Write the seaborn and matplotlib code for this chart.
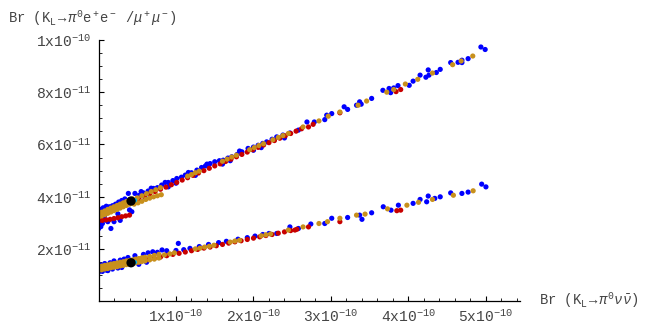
import matplotlib
matplotlib.use("Agg")
import matplotlib.pyplot as plt
import seaborn as sns
import pandas as pd
from matplotlib.ticker import FixedLocator

sns.set_theme(style="white")
plt.rcParams['font.family'] = ['Liberation Mono', 'DejaVu Sans']
plt.rcParams['mathtext.fontset'] = 'custom'
plt.rcParams['mathtext.rm'] = 'Liberation Mono'
plt.rcParams['mathtext.it'] = 'Liberation Mono:italic'
plt.rcParams['mathtext.bf'] = 'Liberation Mono:bold'

# x in units of 1e-10, y in units of 1e-11
blue_ee = [(0.00,2.78),(0.01,2.92),(0.02,3.05),(0.03,2.86),(0.04,3.42),(0.05,2.98),(0.07,3.50),
           (0.09,3.12),(0.11,3.56),(0.16,2.79),(0.14,3.62),(0.18,3.66),(0.22,3.72),(0.26,3.80),
           (0.30,3.86),(0.34,3.92),(0.385,4.13),(0.43,3.43),(0.40,3.50),(0.05,3.20),(0.08,3.30),
           (0.12,3.05),(0.20,3.05),(0.25,3.35),(0.28,3.10),(0.02,3.52),(0.06,3.58),(0.10,3.64),
           (0.47,4.13),(0.52,4.05),(0.58,4.15),(0.64,4.22),(0.71,4.32),(0.76,4.35),(0.815,4.45),
           (0.90,4.55),(0.96,4.62),(1.01,4.70),(1.07,4.75),(1.12,4.83),(1.20,4.92),(1.27,5.02),
           (1.33,5.12),(1.38,5.18),(1.44,5.27),(1.50,5.34),(1.56,5.38),(1.61,5.40),(1.67,5.48),
           (1.72,5.53),(1.79,5.62),(1.85,5.72),(1.93,5.85),(2.00,5.90),(2.06,5.97),(2.12,6.04),
           (2.17,6.10),(2.24,6.20),(2.30,6.29),(2.38,6.36),(2.47,6.44),(2.58,6.55),(2.69,6.86),
           (2.785,6.86),(2.92,6.95),(2.945,7.12),(3.01,7.18),(3.17,7.44),(3.215,7.34),(3.33,7.50),
           (3.37,7.63),(3.39,7.54),(3.525,7.76),(3.67,8.07),(3.75,8.14),(3.77,7.98),(3.81,8.16),
           (3.865,8.25),(4.01,8.26),(4.06,8.42),(4.15,8.65),(4.225,8.57),(4.255,8.85),(4.265,8.65),
           (4.36,8.75),(4.41,8.87),(4.545,9.13),(4.64,9.14),(4.69,9.22),(4.69,9.13),(4.77,9.28),
           (4.935,9.725),(4.99,9.63),(1.00,4.52),(1.60,5.25),(2.00,5.78),(0.60,3.98),(0.90,4.38),
           (1.25,4.82),(1.70,5.38),(2.10,5.88),(2.40,6.25),(0.55,4.20),(0.68,4.33),(0.86,4.55),
           (1.16,4.93),(1.40,5.25),(1.82,5.75)]

red_ee = [(0.00,3.08),(0.05,3.10),(0.10,3.12),(0.15,3.14),(0.20,3.17),(0.25,3.20),(0.30,3.24),
          (0.35,3.27),(0.40,3.30),
          (0.45,3.84),(0.52,3.93),(0.59,4.02),(0.66,4.11),(0.73,4.20),(0.80,4.29),(0.87,4.37),
          (0.94,4.46),(1.01,4.55),(1.08,4.64),(1.15,4.73),(1.22,4.82),(1.29,4.91),(1.36,5.00),
          (1.43,5.09),(1.50,5.18),(1.57,5.26),(1.64,5.35),(1.71,5.44),(1.78,5.53),(1.85,5.62),
          (1.92,5.71),(1.99,5.80),(2.06,5.89),(2.13,5.98),(2.20,6.07),(2.27,6.15),(2.34,6.24),
          (2.41,6.33),(2.48,6.42),(2.55,6.51),(2.62,6.60),
          (2.71,6.67),(2.77,6.77),(3.115,7.21),(3.84,8.02),(3.90,8.10)]

gold_ee = [(0.00,3.22),(0.00,3.36),(0.04,3.27),(0.04,3.41),(0.08,3.32),(0.08,3.46),(0.12,3.37),
           (0.12,3.52),(0.16,3.42),(0.16,3.57),(0.20,3.47),(0.20,3.62),(0.24,3.52),(0.24,3.67),
           (0.28,3.57),(0.28,3.72),(0.32,3.62),(0.32,3.77),(0.36,3.67),(0.36,3.82),(0.40,3.72),
           (0.40,3.87),(0.44,3.77),(0.44,3.92),(0.02,3.30),(0.06,3.35),(0.10,3.40),(0.14,3.46),
           (0.18,3.51),(0.22,3.56),(0.26,3.62),(0.30,3.67),(0.34,3.72),(0.38,3.78),(0.42,3.83),
           (0.46,3.72),(0.51,3.77),(0.56,3.83),(0.61,3.90),(0.66,3.95),(0.71,4.00),(0.76,4.04),
           (0.81,4.08),
           (0.50,3.96),(0.56,4.04),(0.62,4.12),(0.68,4.20),(0.74,4.27),(0.80,4.35),(1.15,4.79),
           (1.20,4.85),(1.25,4.92),(1.30,4.98),(1.60,5.36),(1.66,5.44),(1.72,5.52),(1.78,5.59),
           (1.95,5.80),(2.01,5.88),(2.07,5.96),(2.13,6.03),(2.25,6.18),(2.32,6.27),(2.38,6.34),
           (2.45,6.42),(2.64,6.67),(2.845,6.90),(2.965,7.08),(3.115,7.24),(3.35,7.50),(3.46,7.66),
           (3.72,8.00),(3.81,8.10),(3.96,8.31),(4.12,8.49),(4.31,8.73),(4.57,9.05),(4.68,9.19),
           (4.83,9.38)]

blue_mm = [(0.00,1.12),(0.02,1.40),(0.05,1.15),(0.08,1.45),(0.12,1.18),(0.15,1.48),(0.20,1.55),
           (0.25,1.28),(0.28,1.58),(0.33,1.62),(0.38,1.68),(0.47,1.75),(0.52,1.42),(0.58,1.80),
           (0.64,1.86),(0.70,1.90),(0.76,1.88),(0.82,1.97),(0.88,1.94),(1.03,2.22),(1.00,1.95),
           (1.10,1.98),(1.18,2.03),(1.30,2.10),(1.42,2.18),(1.55,2.25),(1.65,2.30),(1.80,2.38),
           (1.92,2.44),(2.02,2.50),(2.12,2.56),(2.20,2.60),(2.30,2.60),(2.47,2.85),(2.58,2.79),
           (2.74,2.96),(2.92,2.98),(3.01,3.18),(3.215,3.21),(3.37,3.30),(3.40,3.14),(3.525,3.39),
           (3.675,3.62),(3.775,3.49),(3.87,3.68),(4.06,3.75),(4.15,3.90),(4.235,3.81),(4.255,4.03),
           (4.34,3.94),(4.41,4.00),(4.545,4.15),(4.69,4.13),(4.77,4.18),(4.945,4.485),(5.00,4.38),
           (0.10,1.20),(0.18,1.24),(0.30,1.30),(0.62,1.50)]

red_mm = [(0.00,1.22),(0.08,1.27),(0.16,1.32),(0.24,1.36),(0.32,1.41),(0.40,1.46),(0.48,1.51),
          (0.56,1.56),(0.64,1.60),(0.72,1.65),(0.80,1.70),(0.88,1.75),(0.96,1.80),(1.04,1.84),
          (1.12,1.89),(1.20,1.94),(1.28,1.99),(1.36,2.04),(1.44,2.08),(1.52,2.13),(1.60,2.18),
          (1.68,2.23),(1.76,2.28),(1.84,2.32),(1.92,2.37),(2.00,2.42),(2.08,2.47),(2.16,2.52),
          (2.24,2.56),(2.32,2.61),(2.40,2.66),(2.48,2.71),(2.56,2.76),
          (2.535,2.73),(2.71,2.85),(3.115,3.05),(3.85,3.47),(3.90,3.49)]

gold_mm = [(0.00,1.19),(0.00,1.33),(0.04,1.21),(0.04,1.35),(0.08,1.24),(0.08,1.38),(0.12,1.26),
           (0.12,1.40),(0.16,1.29),(0.16,1.43),(0.20,1.31),(0.20,1.45),(0.24,1.33),(0.24,1.47),
           (0.28,1.36),(0.28,1.50),(0.32,1.38),(0.32,1.52),(0.36,1.41),(0.36,1.55),(0.40,1.43),
           (0.40,1.57),(0.44,1.45),(0.44,1.59),(0.48,1.48),(0.48,1.62),(0.52,1.50),(0.52,1.64),
           (0.56,1.53),(0.56,1.67),(0.60,1.55),(0.60,1.69),(0.66,1.59),(0.66,1.72),(0.72,1.62),
           (0.72,1.76),(0.78,1.66),(0.78,1.80),
           (0.85,1.78),(0.92,1.82),(0.98,1.86),(1.25,2.01),(1.31,2.04),(1.37,2.08),(1.43,2.11),
           (1.49,2.15),(1.70,2.27),(1.76,2.31),(1.82,2.34),(2.10,2.51),(2.16,2.55),(2.22,2.58),
           (2.45,2.73),(2.64,2.85),(2.845,2.98),(2.955,3.05),(3.115,3.18),(3.33,3.30),(3.44,3.34),
           (3.73,3.54),(3.98,3.68),(4.13,3.79),(4.31,3.90),(4.58,4.06),(4.835,4.23)]

cyan_pts = [(0.47,3.87),(0.47,1.50)]
black_pts = [(0.42,3.84),(0.42,1.48)]

x_ticks = [1, 2, 3, 4, 5]
x_tick_labels = [r'1x10$^{-10}$', r'2x10$^{-10}$', r'3x10$^{-10}$', r'4x10$^{-10}$', r'5x10$^{-10}$']
y_ticks = [2, 4, 6, 8, 10]
y_tick_labels = [r'2x10$^{-11}$', r'4x10$^{-11}$', r'6x10$^{-11}$', r'8x10$^{-11}$', r'1x10$^{-10}$']

colors = {'blue': '#0000FF', 'red': '#C80000', 'gold': '#C8901C', 'cyan': '#00B0F0', 'black': '#000000'}

rows = []
for name, pts in [('blue', blue_ee), ('blue', blue_mm), ('red', red_ee), ('red', red_mm),
                  ('gold', gold_ee), ('gold', gold_mm)]:
    for x, y in pts:
        rows.append((x * 1e-10, y * 1e-11, name))
df = pd.DataFrame(rows, columns=['x', 'y', 'grp'])
dfc = pd.DataFrame([(x * 1e-10, y * 1e-11, 'cyan') for x, y in cyan_pts], columns=['x', 'y', 'grp'])
dfb = pd.DataFrame([(x * 1e-10, y * 1e-11, 'black') for x, y in black_pts], columns=['x', 'y', 'grp'])

fig = plt.figure(figsize=(6.46, 3.29), dpi=100)
ax = fig.add_axes([0.1525, 0.0836, 0.6525, 0.7954])

sns.scatterplot(data=df, x='x', y='y', hue='grp', palette=colors, s=14, linewidth=0,
                legend=False, ax=ax)
sns.scatterplot(data=dfc, x='x', y='y', hue='grp', palette=colors, s=10, linewidth=0,
                legend=False, ax=ax)
sns.scatterplot(data=dfb, x='x', y='y', hue='grp', palette=colors, s=45, linewidth=0,
                legend=False, ax=ax, zorder=5)

ax.set_xlim(0, 5.44e-10)
ax.set_ylim(0, 1.0e-10)
for s in ['top', 'right']:
    ax.spines[s].set_visible(False)
for s in ['left', 'bottom']:
    ax.spines[s].set_color('black')
    ax.spines[s].set_linewidth(0.9)

ax.set_xticks([t * 1e-10 for t in x_ticks])
ax.set_xticklabels(x_tick_labels)
ax.set_yticks([t * 1e-11 for t in y_ticks])
ax.set_yticklabels(y_tick_labels)
ax.xaxis.set_minor_locator(FixedLocator([k * 0.2e-10 for k in range(1, 28)]))
ax.yaxis.set_minor_locator(FixedLocator([k * 0.5e-11 for k in range(1, 20)]))
ax.tick_params(axis='both', which='major', direction='in', length=3.5, width=0.8,
               color='black', labelsize=10.5, labelcolor='#444444', pad=5)
ax.tick_params(axis='both', which='minor', direction='in', length=2, width=0.6, color='black')
ax.tick_params(axis='x', which='both', bottom=True)
ax.tick_params(axis='y', which='both', left=True)
ax.set_xlabel('')
ax.set_ylabel('')
ax.grid(False)

fig.text(0.012, 0.945, r'Br (K$_{\rm L}$$\rightarrow$$\pi^0$e$^+$e$^-$ /$\mu^+\mu^-$)',
         fontsize=10, color='#444444', ha='left', va='center')
fig.text(0.834, 0.088, r'Br (K$_{\rm L}$$\rightarrow$$\pi^0\nu\bar{\nu}$)',
         fontsize=10, color='#444444', ha='left', va='center')

fig.savefig('out.png', dpi=100)
